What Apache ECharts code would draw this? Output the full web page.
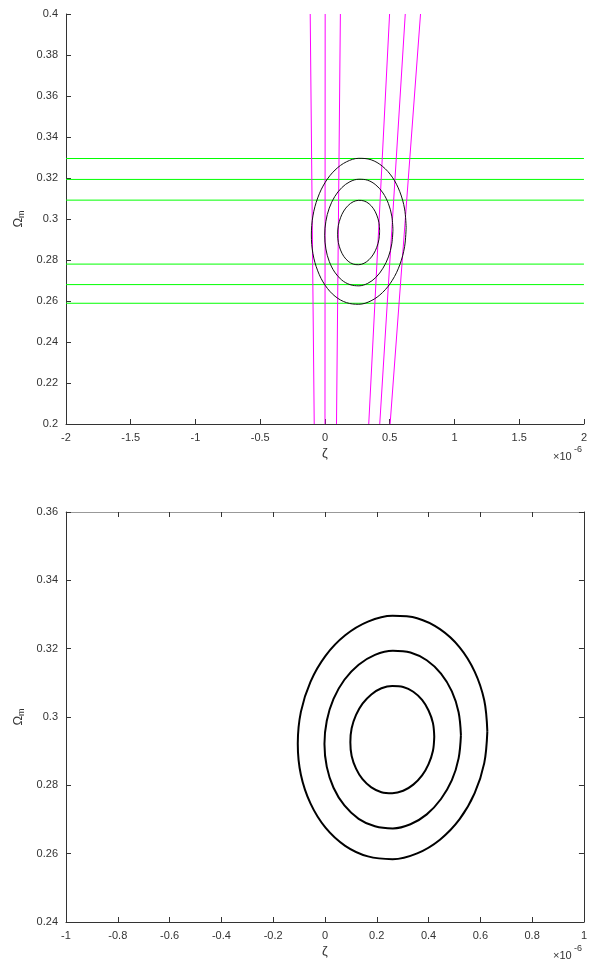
<!DOCTYPE html>
<html>
<head>
<meta charset="utf-8">
<script src="https://cdn.jsdelivr.net/npm/echarts@6/dist/echarts.min.js"></script>
<style>html,body{margin:0;padding:0;background:#fff;}#c{width:590px;height:960px;}</style>
</head>
<body>
<div id="c"></div>
<script>
// zeta values in units of 1e-6
const greenLevels = [0.3295, 0.3193, 0.3092, 0.2780, 0.2680, 0.2589];
// magenta lines: [zeta at Omega_m = 0.2, zeta at Omega_m = 0.4]
const magentaLines = [
  [-0.083, -0.114],
  [0.000, 0.0015],
  [0.089, 0.119],
  [0.338, 0.499],
  [0.423, 0.620],
  [0.503, 0.738]
];
const contourOuter = [
  [0.627,0.2958],[0.615,0.3049],[0.578,0.3133],[0.520,0.3204],[0.444,0.3257],[0.356,0.3289],
  [0.261,0.3296],[0.166,0.3279],[0.078,0.3239],[0.002,0.3179],[-0.056,0.3103],[-0.093,0.3015],
  [-0.105,0.2922],[-0.093,0.2831],[-0.056,0.2747],[0.002,0.2676],[0.078,0.2623],[0.166,0.2592],
  [0.261,0.2584],[0.356,0.2601],[0.444,0.2641],[0.520,0.2701],[0.578,0.2777],[0.615,0.2865],
  [0.627,0.2958]
];
const contourMiddle = [
  [0.525,0.2947],[0.516,0.3014],[0.490,0.3075],[0.448,0.3127],[0.393,0.3166],[0.330,0.3189],
  [0.262,0.3194],[0.193,0.3182],[0.130,0.3153],[0.075,0.3109],[0.033,0.3053],[0.007,0.2989],
  [-0.002,0.2921],[0.007,0.2854],[0.033,0.2793],[0.075,0.2741],[0.130,0.2702],[0.193,0.2680],
  [0.262,0.2674],[0.330,0.2686],[0.393,0.2715],[0.448,0.2760],[0.490,0.2815],[0.516,0.2879],
  [0.525,0.2947]
];
const contourInner = [
  [0.422,0.2942],[0.417,0.2982],[0.400,0.3019],[0.375,0.3050],[0.341,0.3074],[0.302,0.3088],
  [0.260,0.3091],[0.218,0.3084],[0.179,0.3066],[0.145,0.3039],[0.120,0.3006],[0.103,0.2967],
  [0.098,0.2926],[0.103,0.2886],[0.120,0.2849],[0.145,0.2818],[0.179,0.2794],[0.218,0.2780],
  [0.260,0.2777],[0.302,0.2784],[0.341,0.2802],[0.375,0.2829],[0.400,0.2862],[0.417,0.2901],
  [0.422,0.2942]
];
const topX = {min: -2, max: 2, interval: 0.5};
const topY = {min: 0.2, max: 0.4, interval: 0.02};
const botX = {min: -1, max: 1, interval: 0.2};
const botY = {min: 0.24, max: 0.36, interval: 0.02};

const FONT = 'Liberation Sans';
const AX = '#333';
const labelStyle = {color: '#333', fontSize: 11, fontFamily: FONT};

function xAxisCfg(grid, r) {
  return {
    type: 'value', gridIndex: grid, min: r.min, max: r.max, interval: r.interval,
    position: 'bottom',
    axisLine: {show: true, onZero: false, lineStyle: {color: AX, width: 1}},
    axisTick: {show: true, inside: true, length: 5, lineStyle: {color: AX}},
    axisLabel: Object.assign({margin: 8}, labelStyle),
    splitLine: {show: false},
    name: 'ζ', nameLocation: 'middle', nameGap: 23,
    nameTextStyle: {color: '#333', fontSize: 13, fontFamily: FONT}
  };
}
function yAxisCfg(grid, r) {
  return {
    type: 'value', gridIndex: grid, min: r.min, max: r.max, interval: r.interval,
    position: 'left',
    axisLine: {show: true, onZero: false, lineStyle: {color: AX, width: 1}},
    axisTick: {show: true, inside: true, length: 5, lineStyle: {color: AX}},
    axisLabel: Object.assign({margin: 8}, labelStyle),
    splitLine: {show: false},
    name: '{a|Ω}{b|m}', nameLocation: 'middle', nameGap: 37, nameRotate: 90,
    nameTextStyle: {
      color: '#333', fontFamily: FONT,
      rich: {
        a: {fontSize: 13, color: '#333', fontFamily: FONT, lineHeight: 15},
        b: {fontSize: 9, color: '#333', fontFamily: FONT, lineHeight: 9, verticalAlign: 'bottom'}
      }
    }
  };
}

const series = [];
greenLevels.forEach(v => {
  series.push({type: 'line', xAxisIndex: 0, yAxisIndex: 0, data: [[topX.min, v], [topX.max, v]],
    showSymbol: false, lineStyle: {color: '#00ff00', width: 1}, silent: true, z: 2});
});
magentaLines.forEach(p => {
  series.push({type: 'line', xAxisIndex: 0, yAxisIndex: 0, data: [[p[0], topY.min], [p[1], topY.max]],
    showSymbol: false, lineStyle: {color: '#ff00ff', width: 1}, silent: true, z: 3});
});
[contourOuter, contourMiddle, contourInner].forEach(c => {
  series.push({type: 'line', xAxisIndex: 0, yAxisIndex: 0, data: c, smooth: 0.35, smoothMonotone: 'none',
    showSymbol: false, lineStyle: {color: '#111', width: 1}, silent: true, z: 4});
  series.push({type: 'line', xAxisIndex: 1, yAxisIndex: 1, data: c, smooth: 0.35, smoothMonotone: 'none',
    showSymbol: false, lineStyle: {color: '#000', width: 2}, silent: true, z: 4});
});

const option = {
  animation: false,
  backgroundColor: '#fff',
  grid: [
    {left: 66, top: 14, width: 519, height: 410, containLabel: false},
    {left: 66, top: 512, width: 519, height: 410, containLabel: false}
  ],
  xAxis: [
    xAxisCfg(0, topX),
    xAxisCfg(1, botX),
    {type: 'value', gridIndex: 1, min: botX.min, max: botX.max, interval: botX.interval, position: 'top',
      axisLine: {show: true, onZero: false, lineStyle: {color: '#999', width: 1}},
      axisTick: {show: true, inside: true, length: 5, lineStyle: {color: AX}},
      axisLabel: {show: false}, splitLine: {show: false}}
  ],
  yAxis: [
    yAxisCfg(0, topY),
    yAxisCfg(1, botY),
    {type: 'value', gridIndex: 1, min: botY.min, max: botY.max, interval: botY.interval, position: 'right',
      axisLine: {show: true, onZero: false, lineStyle: {color: AX, width: 1}},
      axisTick: {show: true, inside: true, length: 5, lineStyle: {color: AX}},
      axisLabel: {show: false}, splitLine: {show: false}}
  ],
  graphic: [
    {type: 'text', left: 553, top: 451, style: {text: '×10', fontSize: 11, fontFamily: FONT, fill: '#333'}},
    {type: 'text', left: 574, top: 445, style: {text: '-6', fontSize: 9, fontFamily: FONT, fill: '#333'}},
    {type: 'text', left: 553, top: 950, style: {text: '×10', fontSize: 11, fontFamily: FONT, fill: '#333'}},
    {type: 'text', left: 574, top: 944, style: {text: '-6', fontSize: 9, fontFamily: FONT, fill: '#333'}}
  ],
  series: series
};
const chart = echarts.init(document.getElementById('c'), null, {renderer: 'canvas'});
chart.setOption(option);
</script>
</body>
</html>
